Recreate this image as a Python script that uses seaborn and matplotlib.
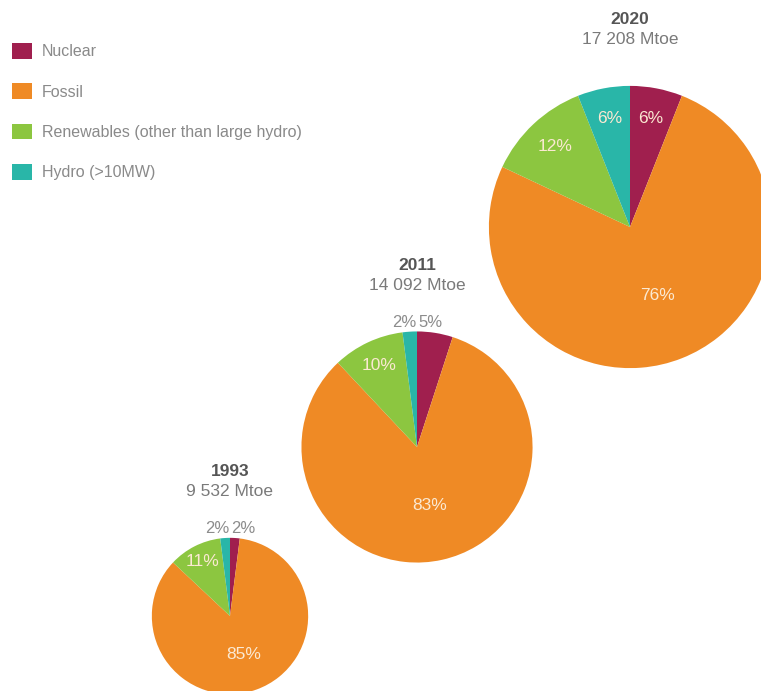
import numpy as np
import matplotlib
matplotlib.use("Agg")
import matplotlib.pyplot as plt
from matplotlib.patches import Patch
import seaborn as sns

# ---- data ----
years = ["1993", "2011", "2020"]
totals_mtoe = [9532, 14092, 17208]
categories = ["Nuclear", "Fossil", "Renewables (other than large hydro)", "Hydro (>10MW)"]
nuclear = [2, 5, 6]
fossil = [85, 83, 76]
renewables = [11, 10, 12]
hydro = [2, 2, 6]

colors = sns.color_palette(["#a01f4e", "#ef8a25", "#8cc640", "#29b6a8"])

sns.set_theme(style="white")
plt.rcParams["font.family"] = ["Liberation Sans", "DejaVu Sans"]

W, H = 761, 691
fig = plt.figure(figsize=(W / 100, H / 100), dpi=100)
ax = fig.add_axes([0, 0, 1, 1])

# layout (pixel coordinates, y up)
centers = [(230, 75), (417, 244), (630, 464)]
scale = 0.0082  # radius in px per Mtoe

for i, yr in enumerate(years):
    vals = [nuclear[i], fossil[i], renewables[i], hydro[i]]
    cx, cy = centers[i]
    r = totals_mtoe[i] * scale
    wedges, _ = ax.pie(vals, colors=colors, startangle=90, counterclock=False,
                       center=(cx, cy), radius=r,
                       wedgeprops=dict(linewidth=0))
    for k, (w, v) in enumerate(zip(wedges, vals)):
        mid = np.deg2rad((w.theta1 + w.theta2) / 2)
        if v <= 5:
            # small slices: label above the pie
            if np.cos(mid) < 0:
                ax.text(cx - 1, cy + r + 9, f"{v}%", ha="right", va="center",
                        fontsize=12, color="#8c8c8c")
            else:
                ax.text(cx + 1, cy + r + 9, f"{v}%", ha="left", va="center",
                        fontsize=12, color="#8c8c8c")
        else:
            d = 0.52 if k == 1 else 0.78
            ax.text(cx + d * r * np.cos(mid), cy + d * r * np.sin(mid), f"{v}%",
                    ha="center", va="center", fontsize=12.5, color="#fbe9d2")
    ax.text(cx, cy + r + 66, yr, ha="center", va="center", fontsize=12.5,
            fontweight="bold", color="#555555")
    tot = f"{totals_mtoe[i]:,}".replace(",", " ")
    ax.text(cx, cy + r + 46, f"{tot} Mtoe", ha="center", va="center",
            fontsize=12.5, color="#7a7a7a")

ax.set_xlim(0, W)
ax.set_ylim(0, H)
ax.set_aspect("equal")
ax.axis("off")

handles = [Patch(facecolor=c, edgecolor="none") for c in colors]
leg = fig.legend(handles, categories, loc="upper left",
                 bbox_to_anchor=(12 / W, 1 - 43 / H), frameon=False,
                 fontsize=11.5, handlelength=1.25, handleheight=1.15,
                 handletextpad=0.6, labelspacing=1.5, borderpad=0,
                 borderaxespad=0)
for t in leg.get_texts():
    t.set_color("#8a8a8a")

fig.savefig("out.png", dpi=100, facecolor="white")
